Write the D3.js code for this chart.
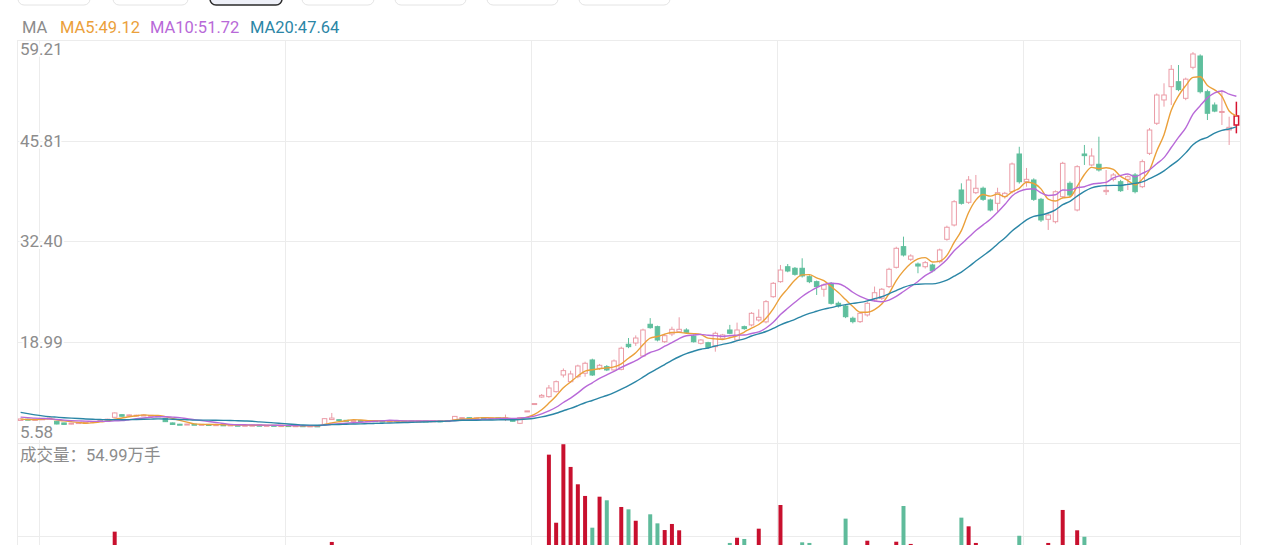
<!DOCTYPE html>
<html lang="zh">
<head>
<meta charset="UTF-8">
<title>K线图</title>
<script src="https://d3js.org/d3.v7.min.js"></script>
<style>
  body { margin: 0; background: #fff; font-family: Roboto, "Noto Sans CJK SC", sans-serif; }
  svg { display: block; }
</style>
</head>
<body>
<div id="chart"></div>
<script>
// closes before the first visible candle (only used for the moving averages)
const preCloses = [12.0, 11.8, 11.5, 11.0, 9.6, 9.5, 9.4, 9.3, 9.4, 9.3, 9.3, 9.4, 9.2, 9.3, 9.2, 8.9, 8.8, 8.7, 8.6];

const opens = [
  8.58, 8.75, 8.70, 8.72, 8.85, 8.47, 8.25, 8.10, 8.22, 8.28, 8.35, 8.45, 8.62, 9.00, 9.35, 9.22, 9.15, 9.22, 9.18, 9.20,
  8.85, 8.25, 8.08, 8.05, 8.08, 8.02, 8.05, 7.98, 8.00, 7.96, 7.95, 7.90, 7.92, 7.95, 7.90, 7.93, 7.88, 7.90, 7.86, 7.88,
  7.84, 7.86, 8.05, 8.70, 8.68, 8.60, 8.55, 8.58, 8.52, 8.55, 8.50, 8.48, 8.52, 8.47, 8.50, 8.46, 8.50, 8.48, 8.53, 8.50,
  8.68, 8.92, 8.95, 8.90, 8.94, 8.88, 8.92, 8.88, 8.68, 8.20, 9.83, 10.80, 11.70, 11.75, 12.41, 14.63, 13.74, 14.41, 14.86, 16.63,
  15.52, 15.74, 15.30, 15.39, 18.72, 18.89, 17.16, 21.38, 21.06, 19.06, 20.09, 20.39, 20.62, 19.82, 18.85, 18.93, 18.40, 19.52, 20.62, 19.29,
  21.06, 21.29, 21.95, 21.70, 25.05, 27.05, 29.04, 28.83, 28.83, 27.71, 27.05, 26.04, 26.83, 24.17, 23.81, 22.18, 21.73, 22.62, 24.61, 24.84,
  26.39, 28.96, 31.71, 30.03, 29.40, 29.04, 29.27, 29.71, 32.69, 34.59, 39.25, 37.61, 38.89, 39.48, 37.92, 37.48, 38.36, 39.02, 44.04, 40.35,
  40.58, 38.01, 35.35, 35.03, 38.36, 40.14, 36.59, 44.04, 42.58, 42.67, 39.03, 40.67, 40.35, 40.67, 41.25, 39.69, 44.13, 48.13, 51.23, 53.00,
  53.66, 51.45, 55.58, 57.08, 52.33, 50.56, 49.67, 47.23, 47.90
];
const highs = [
  8.85, 8.82, 8.78, 8.86, 8.98, 8.52, 8.28, 8.26, 8.34, 8.40, 8.50, 8.64, 8.80, 9.65, 9.42, 9.38, 9.34, 9.36, 9.31, 9.26,
  8.90, 8.30, 8.13, 8.14, 8.12, 8.10, 8.08, 8.05, 8.03, 8.02, 7.98, 7.97, 7.98, 7.97, 7.96, 7.95, 7.93, 7.92, 7.91, 7.90,
  7.89, 7.88, 8.86, 9.58, 8.72, 8.64, 8.62, 8.60, 8.58, 8.57, 8.53, 8.55, 8.54, 8.53, 8.52, 8.53, 8.52, 8.56, 8.55, 8.60,
  9.18, 9.02, 8.99, 8.98, 8.97, 8.96, 8.94, 9.36, 8.72, 9.05, 9.85, 10.83, 12.10, 13.30, 13.90, 15.50, 15.20, 16.00, 16.40, 16.80,
  16.10, 15.95, 16.70, 18.40, 19.55, 19.90, 20.80, 22.20, 21.20, 20.10, 21.06, 22.31, 20.85, 20.00, 19.40, 19.05, 20.40, 20.10, 21.30, 21.60,
  21.20, 23.00, 23.37, 24.60, 27.00, 29.27, 29.40, 29.00, 30.16, 27.90, 27.20, 26.80, 27.00, 24.40, 24.00, 22.40, 23.00, 24.40, 26.40, 26.20,
  28.90, 31.70, 33.04, 30.70, 29.60, 29.80, 29.45, 31.45, 34.50, 37.90, 40.14, 41.10, 41.25, 39.70, 38.10, 39.55, 39.00, 42.90, 45.00, 42.18,
  40.80, 38.20, 36.10, 39.20, 43.00, 40.40, 42.55, 45.24, 44.80, 46.34, 41.91, 41.50, 40.60, 41.20, 41.50, 43.30, 47.50, 52.10, 53.45, 55.88,
  55.88, 54.20, 57.60, 57.30, 52.60, 50.90, 52.56, 49.00, 51.00
];
const lows = [
  8.52, 8.65, 8.64, 8.68, 8.80, 8.05, 8.00, 8.06, 8.18, 8.24, 8.31, 8.42, 8.58, 8.95, 9.10, 9.18, 9.12, 9.18, 9.14, 9.10,
  8.38, 8.02, 8.01, 8.02, 7.99, 7.99, 7.95, 7.95, 7.92, 7.93, 7.87, 7.88, 7.89, 7.87, 7.88, 7.85, 7.85, 7.83, 7.83, 7.81,
  7.81, 7.79, 7.98, 8.65, 8.58, 8.52, 8.52, 8.49, 8.50, 8.47, 8.45, 8.46, 8.44, 8.45, 8.43, 8.44, 8.45, 8.46, 8.47, 8.48,
  8.62, 8.88, 8.86, 8.87, 8.85, 8.86, 8.84, 8.50, 8.44, 8.10, 9.80, 10.78, 11.60, 11.60, 12.30, 14.30, 13.60, 14.20, 14.40, 14.50,
  15.30, 15.15, 15.20, 15.25, 18.20, 18.50, 17.00, 20.80, 19.10, 18.90, 19.80, 20.20, 20.15, 18.95, 18.70, 18.10, 17.73, 19.40, 20.05, 19.10,
  20.65, 21.10, 21.73, 21.50, 24.90, 26.90, 28.30, 27.85, 27.60, 26.85, 25.28, 25.05, 24.00, 23.60, 22.20, 21.50, 21.55, 22.40, 24.40, 24.60,
  26.20, 28.80, 30.40, 29.80, 28.17, 28.80, 28.30, 29.50, 32.50, 34.40, 37.30, 37.40, 38.70, 37.80, 36.40, 36.36, 38.10, 38.80, 40.10, 39.69,
  37.80, 35.00, 33.93, 34.80, 38.10, 38.30, 36.40, 42.58, 42.40, 41.70, 38.58, 40.40, 39.00, 39.25, 38.80, 39.50, 43.90, 47.90, 50.34, 50.56,
  52.40, 51.20, 55.30, 52.10, 48.56, 49.60, 47.90, 45.24, 46.79
];
const closes = [
  8.78, 8.70, 8.72, 8.80, 8.92, 8.11, 8.05, 8.22, 8.30, 8.35, 8.45, 8.60, 8.75, 9.58, 9.14, 9.32, 9.28, 9.30, 9.26, 9.15,
  8.42, 8.05, 8.05, 8.10, 8.02, 8.06, 7.98, 8.02, 7.95, 7.99, 7.90, 7.94, 7.95, 7.90, 7.93, 7.88, 7.90, 7.86, 7.88, 7.84,
  7.86, 7.82, 8.82, 8.90, 8.62, 8.55, 8.58, 8.52, 8.55, 8.50, 8.48, 8.52, 8.47, 8.50, 8.46, 8.50, 8.48, 8.53, 8.50, 8.56,
  9.12, 8.96, 8.90, 8.94, 8.88, 8.92, 8.88, 8.92, 8.47, 8.95, 9.85, 10.83, 11.92, 12.90, 13.74, 15.21, 14.77, 15.83, 16.19, 14.63,
  15.92, 15.30, 16.50, 18.19, 18.40, 19.55, 20.62, 20.93, 19.29, 19.86, 20.71, 20.71, 20.31, 19.06, 19.29, 18.32, 20.18, 19.96, 20.18, 20.62,
  20.80, 22.84, 22.31, 24.39, 26.83, 28.60, 28.47, 28.03, 27.81, 27.05, 26.39, 26.61, 24.17, 23.81, 22.39, 21.73, 22.84, 24.17, 25.58, 26.04,
  28.70, 31.49, 30.60, 30.47, 29.13, 29.58, 28.51, 31.27, 34.29, 37.69, 37.48, 40.58, 39.48, 38.01, 36.59, 38.89, 38.81, 42.71, 40.35, 40.67,
  38.01, 35.26, 35.92, 39.02, 42.80, 38.58, 42.35, 43.82, 43.77, 41.91, 39.20, 41.25, 39.16, 41.02, 39.03, 43.02, 47.23, 51.89, 51.89, 55.31,
  52.61, 54.00, 57.35, 52.33, 49.46, 49.75, 49.70, 47.59, 49.10
];
// 成交量 (万手)
const volumes = [
  22, 18, 15, 17, 20, 35, 28, 16, 14, 15, 18, 20, 24, 78.5, 40, 30, 26, 24, 22, 25,
  38, 33, 20, 16, 14, 15, 13, 12, 14, 12, 11, 12, 10, 12, 11, 10, 12, 11, 10, 12,
  11, 13, 45, 70.2, 30, 22, 18, 16, 15, 14, 13, 14, 12, 13, 12, 14, 13, 12, 15, 16,
  35, 28, 22, 20, 18, 17, 19, 30, 25, 40, 8, 6, 22, 140.6, 85.7, 149.0, 130.7, 116.7, 107.3, 81.7,
  106.7, 103.8, 55, 98.4, 96.5, 87.3, 66, 92.5, 85.2, 79.8, 84.7, 79.6, 60, 58, 50, 56, 62, 48, 69.4, 73.6,
  72.6, 64, 80.9, 65, 62, 100, 58, 55, 69.9, 69.4, 60, 52, 64, 48, 89, 50, 55, 71.2, 60, 56,
  63, 70.4, 99.2, 68.6, 52, 48, 50, 58, 62, 64, 89.8, 82.8, 69.4, 60, 55, 52, 48, 64, 75.2, 58,
  60, 62, 69.4, 58, 96, 62, 79.6, 74.4, 60, 58, 50, 45, 48, 42, 50, 55, 60, 64, 58, 62,
  55, 60, 64, 66, 62, 50, 48, 52, 54.99
];

const priceTicks = [5.58, 18.99, 32.40, 45.81, 59.21];
const volumeTicks = [0, 75, 150];
const monthStarts = [3, 37, 71, 105, 139];
const maPeriods = [5, 10, 20];

const width = 1280, height = 545;
const left = 17, right = 1240;
const priceTop = 40, priceBottom = 443;
const volTop = 443, volBottom = 629;

const colors = {
  grid: "#ececec",
  label: "#8c8c8c",
  up: "#eb9ca7",
  down: "#5fbf9d",
  volUp: "#c8102e",
  volDown: "#5fbb9b",
  last: "#d6132f",
  ma: { 5: "#eba03a", 10: "#b869d8", 20: "#2b86a6" }
};

const n = closes.length;
const candles = d3.range(n).map(i => ({
  i, o: opens[i], h: highs[i], l: lows[i], c: closes[i], v: volumes[i]
}));

const x = d3.scaleBand().domain(d3.range(n)).range([left, right]).padding(0);
const bw = x.bandwidth();
const cx = i => x(i) + bw / 2;
const y = d3.scaleLinear().domain([priceTicks[0], priceTicks[priceTicks.length - 1]]).range([priceBottom, priceTop]);
const yv = d3.scaleLinear().domain([0, volumeTicks[volumeTicks.length - 1]]).range([volBottom, volTop]);

// moving averages from the closes
const allCloses = preCloses.concat(closes);
const off = preCloses.length;
const ma = {};
maPeriods.forEach(p => {
  ma[p] = d3.range(n).map(i => d3.mean(allCloses.slice(off + i - p + 1, off + i + 1)));
});

const svg = d3.select("#chart").append("svg")
  .attr("width", width).attr("height", height);

svg.append("defs").append("clipPath").attr("id", "plot")
  .append("rect").attr("x", left).attr("y", priceTop).attr("width", right - left).attr("height", height - priceTop);

// tab buttons at the very top (cut off by the frame)
const tabs = [[18, 90], [113, 188], [210, 282], [302, 374], [395, 466], [487, 558], [579, 670]];
svg.append("g").selectAll("rect").data(tabs).join("rect")
  .attr("x", d => d[0]).attr("y", -20).attr("width", d => d[1] - d[0]).attr("height", 25)
  .attr("rx", 6)
  .attr("fill", (d, i) => i === 2 ? "#eef0f8" : "#fff")
  .attr("stroke", (d, i) => i === 2 ? "#2b2b2b" : "#e4e4e4")
  .attr("stroke-width", (d, i) => i === 2 ? 1.5 : 1);

// grid
const grid = svg.append("g").attr("stroke", colors.grid).attr("stroke-width", 1);
priceTicks.forEach(t => {
  grid.append("line").attr("x1", left).attr("x2", right)
    .attr("y1", Math.round(y(t)) + 0.5).attr("y2", Math.round(y(t)) + 0.5);
});
volumeTicks.forEach(t => {
  grid.append("line").attr("x1", left).attr("x2", right)
    .attr("y1", Math.round(yv(t)) + 0.5).attr("y2", Math.round(yv(t)) + 0.5);
});
monthStarts.forEach(i => {
  grid.append("line").attr("x1", Math.round(x(i)) + 0.5).attr("x2", Math.round(x(i)) + 0.5)
    .attr("y1", priceTop).attr("y2", height);
});
[left, right].forEach(px => {
  grid.append("line").attr("x1", px + 0.5).attr("x2", px + 0.5).attr("y1", priceTop).attr("y2", height);
});

const plot = svg.append("g").attr("clip-path", "url(#plot)");

// volume bars
const vbw = Math.max(1, bw * 0.55);
plot.append("g").selectAll("rect").data(candles).join("rect")
  .attr("x", d => cx(d.i) - vbw / 2)
  .attr("y", d => yv(d.v))
  .attr("width", vbw)
  .attr("height", d => yv(0) - yv(d.v))
  .attr("fill", d => d.c >= d.o ? colors.volUp : colors.volDown);

// candles
const cbw = bw * 0.62;
const cg = plot.append("g").selectAll("g").data(candles).join("g");
cg.append("line")
  .attr("x1", d => cx(d.i)).attr("x2", d => cx(d.i))
  .attr("y1", d => y(d.h)).attr("y2", d => y(d.l))
  .attr("stroke", d => d.i === n - 1 ? colors.last : (d.c >= d.o ? colors.up : colors.down))
  .attr("stroke-width", d => d.i === n - 1 ? 1.5 : 1);
cg.append("rect")
  .attr("x", d => cx(d.i) - cbw / 2)
  .attr("y", d => y(Math.max(d.o, d.c)))
  .attr("width", cbw)
  .attr("height", d => Math.max(1, Math.abs(y(d.o) - y(d.c))))
  .attr("fill", d => d.c >= d.o ? "#fff" : colors.down)
  .attr("stroke", d => d.i === n - 1 ? colors.last : (d.c >= d.o ? colors.up : colors.down))
  .attr("stroke-width", d => d.i === n - 1 ? 1.5 : 1);

// moving average lines
const line = d3.line().x((d, i) => cx(i)).y(d => y(d)).curve(d3.curveMonotoneX);
maPeriods.forEach(p => {
  plot.append("path").datum(ma[p])
    .attr("fill", "none")
    .attr("stroke", colors.ma[p])
    .attr("stroke-width", 1.4)
    .attr("d", line);
});

// price labels
svg.append("g").selectAll("text").data(priceTicks).join("text")
  .attr("x", 20)
  .attr("y", (t, i) => y(t) + (i === priceTicks.length - 1 ? 9 : i === 0 ? -11 : 0))
  .attr("dominant-baseline", "central")
  .attr("font-size", 17)
  .attr("fill", colors.label)
  .attr("stroke", "#fff").attr("stroke-width", 4).attr("paint-order", "stroke")
  .text(t => t.toFixed(2));

// MA legend
const legend = svg.append("g").attr("font-size", 16.5);
const items = [{ text: "MA", color: colors.label }].concat(
  maPeriods.map(p => ({ text: `MA${p}:${ma[p][n - 1].toFixed(2)}`, color: colors.ma[p] }))
);
const legendX = [22, 60, 150, 250];
items.forEach((it, i) => {
  legend.append("text").attr("x", legendX[i]).attr("y", 27)
    .attr("dominant-baseline", "central").attr("fill", it.color).text(it.text);
});

// volume label
svg.append("text").attr("x", 20).attr("y", 455)
  .attr("dominant-baseline", "central")
  .attr("font-size", 16.5).attr("fill", colors.label)
  .text(`成交量：${volumes[n - 1].toFixed(2)}万手`);
</script>
</body>
</html>
